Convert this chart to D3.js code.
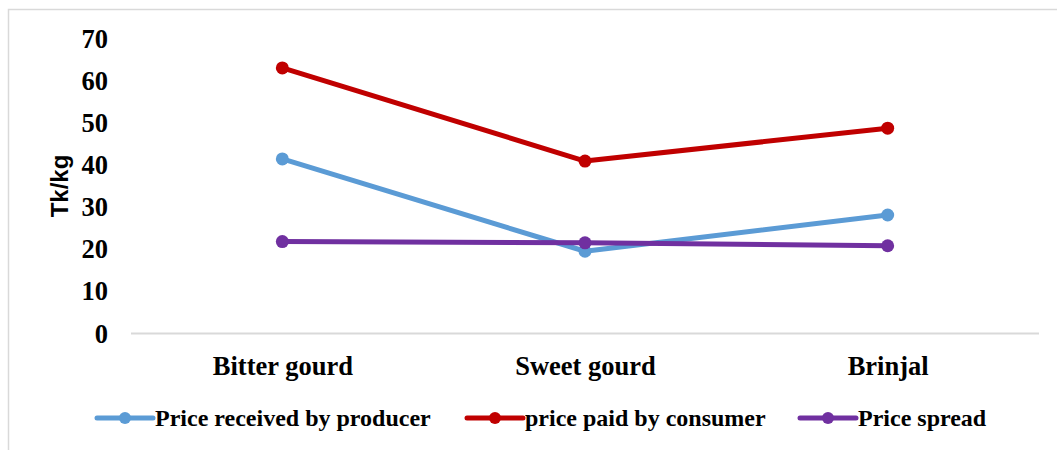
<!DOCTYPE html>
<html>
<head>
<meta charset="utf-8">
<script src="https://cdn.jsdelivr.net/npm/d3@7"></script>
<style>
  html, body { margin: 0; padding: 0; background: #fff; }
  svg { display: block; }
</style>
</head>
<body>
<svg id="chart" width="1057" height="450"></svg>
<script>
const categories = ["Bitter gourd", "Sweet gourd", "Brinjal"];
const producerPrice = [41.3, 19.4, 28.0];
const consumerPrice = [62.9, 40.8, 48.6];
const priceSpread = [21.7, 21.4, 20.7];
const seriesNames = ["Price received by producer", "price paid by consumer", "Price spread"];
const seriesColors = ["#5b9bd5", "#c00000", "#7030a0"];
const yTicks = [0, 10, 20, 30, 40, 50, 60, 70];

const series = [producerPrice, consumerPrice, priceSpread].map((v, i) => ({
  name: seriesNames[i], color: seriesColors[i], values: v
}));

const svg = d3.select("#chart");

// outer frame (top and left borders visible)
svg.append("path")
  .attr("d", "M8.5,450 L8.5,9.5 L1057,9.5")
  .attr("fill", "none").attr("stroke", "#d9d9d9").attr("stroke-width", 1.5);

const x = d3.scalePoint().domain(categories).range([131, 1039]).padding(0.5);
const y = d3.scaleLinear().domain([0, 70]).range([333, 38]);

// y tick labels
const yAxis = d3.axisLeft(y).tickValues(yTicks).tickSize(0).tickPadding(0).tickFormat(d3.format("d"));
const yg = svg.append("g").attr("transform", "translate(108,0)").call(yAxis);
yg.select(".domain").remove();
yg.selectAll("text")
  .attr("font-family", "'Liberation Serif', 'Times New Roman', serif")
  .attr("font-weight", "bold").attr("font-size", 26.5).attr("fill", "#000")
  .attr("dy", "0.34em");

// x axis
const xAxis = d3.axisBottom(x).tickSize(0).tickPadding(0);
const xg = svg.append("g").attr("transform", "translate(0,333)").call(xAxis);
xg.select(".domain").attr("d", "M131,0.5H1039").attr("stroke", "#d9d9d9").attr("stroke-width", 2);
xg.selectAll("text")
  .attr("font-family", "'Liberation Serif', 'Times New Roman', serif")
  .attr("font-weight", "bold").attr("font-size", 26.5).attr("fill", "#000")
  .attr("y", 42).attr("dy", 0);

// y axis title
svg.append("text")
  .attr("transform", "translate(68,186) rotate(-90)")
  .attr("text-anchor", "middle")
  .attr("font-family", "'Liberation Sans', Arial, sans-serif")
  .attr("font-weight", "bold").attr("font-size", 24).attr("fill", "#000")
  .text("Tk/kg");

// lines
const line = d3.line().x((d, i) => x(categories[i])).y(d => y(d));
const sg = svg.selectAll("g.series").data(series).enter().append("g").attr("class", "series");
sg.append("path")
  .attr("d", d => line(d.values))
  .attr("fill", "none").attr("stroke", d => d.color)
  .attr("stroke-width", 5).attr("stroke-linejoin", "round");
sg.each(function(s) {
  d3.select(this).selectAll("circle").data(s.values).enter().append("circle")
    .attr("cx", (d, i) => x(categories[i])).attr("cy", d => y(d))
    .attr("r", 6.5).attr("fill", s.color);
});

// legend
const legendX = [97, 467, 800];
const legendY = 418;
const lg = svg.selectAll("g.legend").data(series).enter().append("g")
  .attr("class", "legend")
  .attr("transform", (d, i) => `translate(${legendX[i]},${legendY})`);
lg.append("line").attr("x1", 0).attr("x2", 56).attr("y1", 0).attr("y2", 0)
  .attr("stroke", d => d.color).attr("stroke-width", 5).attr("stroke-linecap", "round");
lg.append("circle").attr("cx", 28).attr("cy", 0).attr("r", 6).attr("fill", d => d.color);
lg.append("text").attr("x", 58).attr("y", 0).attr("dy", "0.35em")
  .attr("font-family", "'Liberation Serif', 'Times New Roman', serif")
  .attr("font-weight", "bold").attr("font-size", 24).attr("fill", "#000")
  .text(d => d.name);
</script>
</body>
</html>
